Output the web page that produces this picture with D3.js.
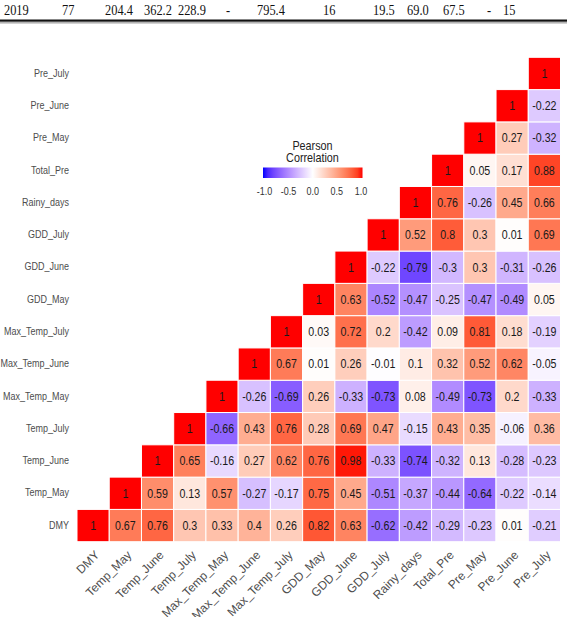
<!DOCTYPE html>
<html>
<head>
<meta charset="utf-8">
<script src="https://cdn.jsdelivr.net/npm/d3@7"></script>
<style>
  html, body { margin: 0; padding: 0; background: #fff; }
  svg { display: block; }
</style>
</head>
<body>
<script>
// ---- data ----
const tableRow = ["2019", "77", "204.4", "362.2", "228.9", "-", "795.4", "16", "19.5", "69.0", "67.5", "-", "15"];
const tableX = [4, 62, 105, 144, 178, 226, 257, 323, 373, 407, 443, 487, 503];

const variables = ["DMY", "Temp_May", "Temp_June", "Temp_July", "Max_Temp_May", "Max_Temp_June",
  "Max_Temp_July", "GDD_May", "GDD_June", "GDD_July", "Rainy_days", "Total_Pre", "Pre_May", "Pre_June", "Pre_July"];

// each row i lists correlations with variables i..14
const row_DMY          = [1, 0.67, 0.76, 0.3, 0.33, 0.4, 0.26, 0.82, 0.63, -0.62, -0.42, -0.29, -0.23, 0.01, -0.21];
const row_Temp_May     = [1, 0.59, 0.13, 0.57, -0.27, -0.17, 0.75, 0.45, -0.51, -0.37, -0.44, -0.64, -0.22, -0.14];
const row_Temp_June    = [1, 0.65, -0.16, 0.27, 0.62, 0.76, 0.98, -0.33, -0.74, -0.32, 0.13, -0.28, -0.23];
const row_Temp_July    = [1, -0.66, 0.43, 0.76, 0.28, 0.69, 0.47, -0.15, 0.43, 0.35, -0.06, 0.36];
const row_Max_Temp_May = [1, -0.26, -0.69, 0.26, -0.33, -0.73, 0.08, -0.49, -0.73, 0.2, -0.33];
const row_Max_Temp_June= [1, 0.67, 0.01, 0.26, -0.01, 0.1, 0.32, 0.52, 0.62, -0.05];
const row_Max_Temp_July= [1, 0.03, 0.72, 0.2, -0.42, 0.09, 0.81, 0.18, -0.19];
const row_GDD_May      = [1, 0.63, -0.52, -0.47, -0.25, -0.47, -0.49, 0.05];
const row_GDD_June     = [1, -0.22, -0.79, -0.3, 0.3, -0.31, -0.26];
const row_GDD_July     = [1, 0.52, 0.8, 0.3, 0.01, 0.69];
const row_Rainy_days   = [1, 0.76, -0.26, 0.45, 0.66];
const row_Total_Pre    = [1, 0.05, 0.17, 0.88];
const row_Pre_May      = [1, 0.27, -0.32];
const row_Pre_June     = [1, -0.22];
const row_Pre_July     = [1];

const rows = [row_DMY, row_Temp_May, row_Temp_June, row_Temp_July, row_Max_Temp_May, row_Max_Temp_June,
  row_Max_Temp_July, row_GDD_May, row_GDD_June, row_GDD_July, row_Rainy_days, row_Total_Pre, row_Pre_May, row_Pre_June, row_Pre_July];

const legendTicks = [-1.0, -0.5, 0.0, 0.5, 1.0];

// ---- build cells ----
const cells = [];
rows.forEach((r, i) => {
  r.forEach((v, k) => {
    cells.push({ row: variables[i], col: variables[i + k], value: v });
  });
});

const W = 567, H = 617;
const FONT = "Liberation Sans, Arial, sans-serif";
const svg = d3.select("body").append("svg").attr("width", W).attr("height", H);

// squeeze helper: scale horizontally about a point
const sq = (x, y, s) => `translate(${x},${y}) scale(${s},1) translate(${-x},${-y})`;

// top table fragment
svg.append("g").selectAll("text").data(tableRow).join("text")
  .attr("x", (d, i) => tableX[i]).attr("y", 15)
  .attr("transform", (d, i) => sq(tableX[i], 15, 0.8))
  .attr("font-family", "Liberation Serif, Times New Roman, serif")
  .attr("font-size", 15.5).attr("fill", "#111")
  .text(d => d);
svg.append("rect").attr("x", 0).attr("y", 19.5).attr("width", W).attr("height", 2.2).attr("fill", "#111");
svg.append("rect").attr("x", 0).attr("y", 22.5).attr("width", W).attr("height", 0.8).attr("fill", "#666");

const gridLeft = 77, gridRight = 560.5, gridTop = 57.3, gridBottom = 541.7;
const x = d3.scaleBand().domain(variables).range([gridLeft, gridRight]);
const y = d3.scaleBand().domain(variables).range([gridBottom, gridTop]);

const color = d3.scaleLinear().domain([-1, 0, 1]).range(["blue", "white", "red"]).interpolate(d3.interpolateLab);

svg.append("g").selectAll("rect").data(cells).join("rect")
  .attr("x", d => x(d.col)).attr("y", d => y(d.row))
  .attr("width", x.bandwidth()).attr("height", y.bandwidth())
  .attr("fill", d => color(d.value))
  .attr("stroke", "white").attr("stroke-width", 1);

svg.append("g").selectAll("text").data(cells).join("text")
  .attr("x", d => x(d.col) + x.bandwidth() / 2)
  .attr("y", d => y(d.row) + y.bandwidth() / 2)
  .attr("transform", d => sq(x(d.col) + x.bandwidth() / 2, 0, 0.82))
  .attr("text-anchor", "middle").attr("dominant-baseline", "central")
  .attr("font-family", FONT).attr("font-size", 13)
  .attr("fill", "#1a1a1a")
  .text(d => d.value);

// y axis labels
const yAxis = d3.axisLeft(y).tickSize(0).tickPadding(9);
const gy = svg.append("g").attr("transform", `translate(${gridLeft},0)`).call(yAxis);
gy.select(".domain").remove();
gy.selectAll("text").attr("font-family", FONT).attr("font-size", 10).attr("fill", "#4d4d4d")
  .attr("transform", "scale(0.9,1)");

// x axis labels
const xAxis = d3.axisBottom(x).tickSize(0).tickPadding(0);
const gx = svg.append("g").attr("transform", `translate(0,${gridBottom})`).call(xAxis);
gx.select(".domain").remove();
gx.selectAll("text")
  .attr("font-family", FONT).attr("font-size", 12).attr("fill", "#4d4d4d")
  .attr("text-anchor", "end").attr("dy", null).attr("y", 0)
  .attr("transform", "translate(7,14) rotate(-45)");

// legend
const lx = d3.scaleLinear().domain([-1, 1]).range([264.5, 361]);
const defs = svg.append("defs");
const grad = defs.append("linearGradient").attr("id", "lg").attr("x1", "0%").attr("x2", "100%");
d3.range(0, 1.0001, 0.05).forEach(t => {
  grad.append("stop").attr("offset", (t * 100) + "%").attr("stop-color", color(-1 + 2 * t));
});
const leg = svg.append("g");
leg.append("rect").attr("x", lx(-1) - 1.5).attr("y", 167.5).attr("width", lx(1) - lx(-1) + 3).attr("height", 10.5)
  .attr("fill", "url(#lg)");
leg.append("text").attr("x", 312.5).attr("y", 150).attr("text-anchor", "middle")
  .attr("transform", sq(312.5, 0, 0.9))
  .attr("font-family", FONT).attr("font-size", 12).attr("fill", "#222").text("Pearson");
leg.append("text").attr("x", 312.5).attr("y", 162.5).attr("text-anchor", "middle")
  .attr("transform", sq(312.5, 0, 0.9))
  .attr("font-family", FONT).attr("font-size", 12).attr("fill", "#222").text("Correlation");
leg.selectAll(".tk").data(legendTicks).join("text").attr("class", "tk")
  .attr("x", d => lx(d)).attr("y", 195).attr("text-anchor", "middle")
  .attr("transform", d => sq(lx(d), 0, 0.9))
  .attr("font-family", FONT).attr("font-size", 10).attr("fill", "#333")
  .text(d => d3.format(".1f")(d).replace("−", "-"));
</script>
</body>
</html>
